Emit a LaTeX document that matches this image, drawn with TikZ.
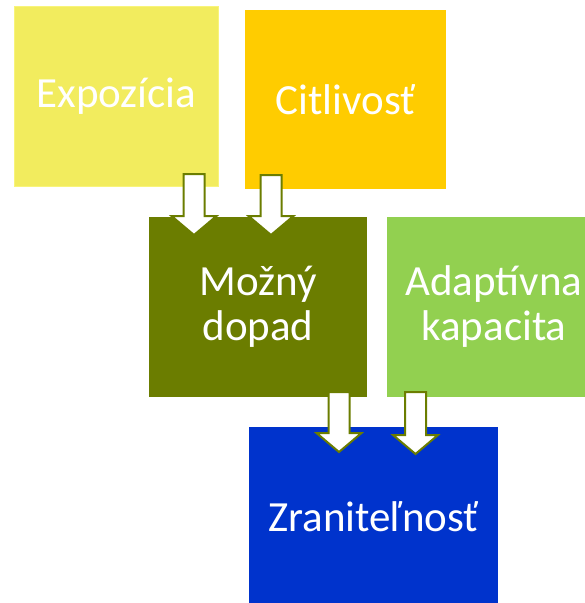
\documentclass[tikz,border=0pt]{standalone}
\usepackage{fontspec}
\setmainfont{Carlito}
\usepackage{tikz}
\usetikzlibrary{calc}

\definecolor{expoyellow}{RGB}{242,236,94}
\definecolor{expoedge}{RGB}{248,244,122}
\definecolor{citlorange}{RGB}{255,204,0}
\definecolor{dopadolive}{RGB}{107,125,0}
\definecolor{adaptgreen}{RGB}{146,208,80}
\definecolor{zranblue}{RGB}{0,51,204}

\tikzset{
  box/.style={rectangle, draw=none, text=white, align=center, inner sep=0pt,
    font=\fontsize{43}{45}\selectfont},
  blockarr/.style={draw=dopadolive, fill=white, line width=2pt, line join=miter},
}
% blokova sipka: #1 zaciatok drieku, #2 hrot
\newcommand{\blockarrow}[2]{%
  \draw[blockarr] ($(#1)+(-10.5,0)$) -- ($(#1)+(10.5,0)$) -- ($(#2)+(10.5,-19)$)
    -- ($(#2)+(22.5,-19)$) -- (#2) -- ($(#2)+(-22.5,-19)$) -- ($(#2)+(-10.5,-19)$) -- cycle;}

\begin{document}
\begin{tikzpicture}[x=1pt, y=-1pt]
    \useasboundingbox (0,0) rectangle (585,603);
    % boxy
    \node[box, fill=expoyellow, draw=expoedge, line width=1.5pt,
          minimum width=204pt, minimum height=180pt] (expo) at (116.5,96.5) {Expozícia};
    \node[box, fill=citlorange, minimum width=201pt, minimum height=179pt] (citl) at (345.5,99.5) {Citlivosť};
    \node[box, fill=dopadolive, minimum width=218pt, minimum height=180pt] (dopad) at (258,307) {Možný\\dopad};
    \node[box, fill=adaptgreen, minimum width=214pt, minimum height=180pt] (adapt) at (494,307) {Adaptívna\\kapacita};
    \node[box, fill=zranblue, minimum width=249pt, minimum height=180pt] (zran) at (373.5,517) {Zraniteľnosť};
    % body sipok
    \coordinate (expoout) at (194,174);  \coordinate (dopadin1) at (194,235);
    \coordinate (citlout) at (271,175);  \coordinate (dopadin2) at (271,235);
    \coordinate (dopadout) at (339,392); \coordinate (zranin1) at (339,452);
    \coordinate (adaptout) at (415.5,392); \coordinate (zranin2) at (415.5,454);
    % sipky
    \blockarrow{expoout}{dopadin1}
    \blockarrow{citlout}{dopadin2}
    \blockarrow{dopadout}{zranin1}
    \blockarrow{adaptout}{zranin2}
\end{tikzpicture}
\end{document}
